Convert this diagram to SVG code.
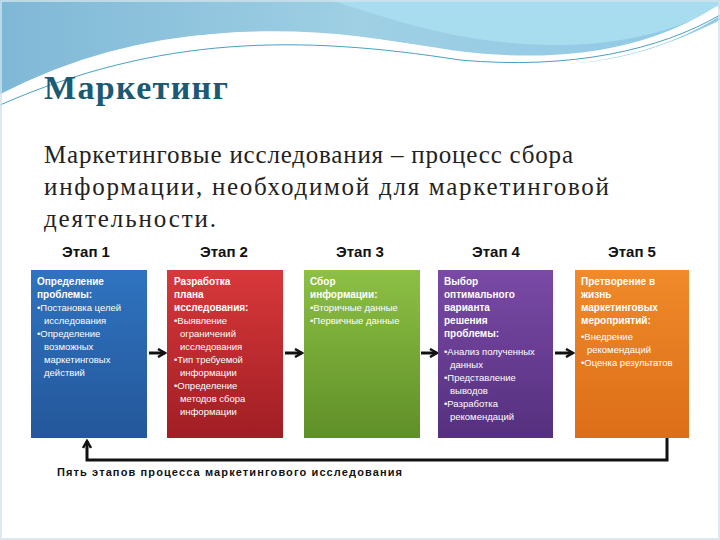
<svg xmlns="http://www.w3.org/2000/svg" width="720" height="540" viewBox="0 0 720 540">
<defs>
<linearGradient id="sky" x1="0" y1="0" x2="1" y2="0"><stop offset="0" stop-color="#7fb8d6"/><stop offset="0.5" stop-color="#9fd0e4"/><stop offset="1" stop-color="#8fc8e6"/></linearGradient>
<linearGradient id="gb" x1="0" y1="0" x2="0" y2="1"><stop offset="0" stop-color="#2f73c0"/><stop offset="1" stop-color="#24579a"/></linearGradient>
<linearGradient id="gr" x1="0" y1="0" x2="0" y2="1"><stop offset="0" stop-color="#d8383a"/><stop offset="1" stop-color="#a01e24"/></linearGradient>
<linearGradient id="gg" x1="0" y1="0" x2="0" y2="1"><stop offset="0" stop-color="#8dc045"/><stop offset="1" stop-color="#5f8f28"/></linearGradient>
<linearGradient id="gp" x1="0" y1="0" x2="0" y2="1"><stop offset="0" stop-color="#7a4aa6"/><stop offset="1" stop-color="#55307e"/></linearGradient>
<linearGradient id="go" x1="0" y1="0" x2="0" y2="1"><stop offset="0" stop-color="#f08a2a"/><stop offset="1" stop-color="#dc6e18"/></linearGradient>
<marker id="ah" markerWidth="10" markerHeight="10" refX="8" refY="5" orient="auto" markerUnits="userSpaceOnUse"><path d="M1,1 L8,5 L1,9" fill="none" stroke="#111" stroke-width="2.5"/></marker>
<style>
.stage{font-family:"Liberation Sans",Arial,sans-serif;font-weight:bold;font-size:15px;fill:#111;text-anchor:middle}
.bt{font-family:"Liberation Sans",Arial,sans-serif;font-weight:bold;font-size:10px;fill:#fff}
.bl{font-family:"Liberation Sans",Arial,sans-serif;font-size:9.5px;fill:#fff}
.body{font-family:"Liberation Serif","Times New Roman",serif;font-size:25px;fill:#222}
.conn{fill:none;stroke:#111;stroke-width:3}
</style>
</defs>
<rect width="720" height="540" fill="#fff"/>
<path d="M0,0 H720 V20 C640,60 560,80 440,50 C300,20 150,20 0,95 Z" fill="url(#sky)"/>
<path d="M330,0 C420,30 480,45 560,45 C640,45 700,20 720,5 V0 Z" fill="#a8dcef"/>
<path d="M0,100 C150,20 300,30 450,55 C560,70 650,55 720,10" fill="none" stroke="#fff" stroke-width="10"/>
<path d="M0,105 C160,35 300,35 460,60 C570,70 660,50 720,15" fill="none" stroke="#4aa0c0" stroke-width="1"/>
<rect x="1" y="1" width="718" height="538" fill="none" stroke="#cfe3ec" stroke-width="1.5"/>
<text x="44" y="99" font-family="Liberation Serif,serif" font-weight="bold" font-size="34" fill="#1b5a74" textLength="184">Маркетинг</text>
<text class="body" x="44" y="163" textLength="529">Маркетинговые исследования – процесс сбора</text>
<text class="body" x="44" y="195" textLength="565">информации, необходимой для маркетинговой</text>
<text class="body" x="44" y="227" textLength="172">деятельности.</text>
<g id="connectors">
<line class="conn" x1="149" y1="353" x2="165" y2="353" marker-end="url(#ah)"/>
<line class="conn" x1="285" y1="353" x2="302" y2="353" marker-end="url(#ah)"/>
<line class="conn" x1="421" y1="353" x2="437" y2="353" marker-end="url(#ah)"/>
<line class="conn" x1="555" y1="353" x2="573" y2="353" marker-end="url(#ah)"/>
<path class="conn" d="M667,438 V460 H87 V441" marker-end="url(#ah)"/>
<text x="57" y="476" font-family="Liberation Sans,Arial,sans-serif" font-weight="bold" font-size="11" fill="#111" textLength="345">Пять этапов процесса маркетингового исследования</text>
</g>
<g id="stage1">
<text class="stage" x="86" y="257">Этап 1</text>
<rect x="31" y="270" width="116" height="168" fill="url(#gb)"/>
<text class="bt" x="37" y="285">Определение</text>
<text class="bt" x="37" y="298">проблемы:</text>
<text class="bl" x="37" y="311">•Постановка целей</text>
<text class="bl" x="44" y="324">исследования</text>
<text class="bl" x="37" y="337">•Определение</text>
<text class="bl" x="44" y="350">возможных</text>
<text class="bl" x="44" y="363">маркетинговых</text>
<text class="bl" x="44" y="376">действий</text>
</g>
<g id="stage2">
<text class="stage" x="224" y="257">Этап 2</text>
<rect x="167" y="270" width="116" height="168" fill="url(#gr)"/>
<text class="bt" x="174" y="285">Разработка</text>
<text class="bt" x="174" y="298">плана</text>
<text class="bt" x="174" y="311">исследования:</text>
<text class="bl" x="174" y="324">•Выявление</text>
<text class="bl" x="180" y="337">ограничений</text>
<text class="bl" x="180" y="350">исследования</text>
<text class="bl" x="174" y="363">•Тип требуемой</text>
<text class="bl" x="180" y="376">информации</text>
<text class="bl" x="174" y="389">•Определение</text>
<text class="bl" x="180" y="402">методов сбора</text>
<text class="bl" x="180" y="415">информации</text>
</g>
<g id="stage3">
<text class="stage" x="360" y="257">Этап 3</text>
<rect x="304" y="270" width="116" height="168" fill="url(#gg)"/>
<text class="bt" x="310" y="285">Сбор</text>
<text class="bt" x="310" y="298">информации:</text>
<text class="bl" x="310" y="311" font-size="8.5">•Вторичные данные</text>
<text class="bl" x="310" y="324" font-size="8.5">•Первичные данные</text>
</g>
<g id="stage4">
<text class="stage" x="496" y="257">Этап 4</text>
<rect x="438" y="270" width="115" height="168" fill="url(#gp)"/>
<text class="bt" x="444" y="285">Выбор</text>
<text class="bt" x="444" y="298">оптимального</text>
<text class="bt" x="444" y="311">варианта</text>
<text class="bt" x="444" y="324">решения</text>
<text class="bt" x="444" y="337">проблемы:</text>
<text class="bl" x="444" y="355">•Анализ полученных</text>
<text class="bl" x="450" y="368">данных</text>
<text class="bl" x="444" y="381">•Представление</text>
<text class="bl" x="450" y="394">выводов</text>
<text class="bl" x="444" y="407">•Разработка</text>
<text class="bl" x="450" y="420">рекомендаций</text>
</g>
<g id="stage5">
<text class="stage" x="632" y="257">Этап 5</text>
<rect x="575" y="270" width="114" height="168" fill="url(#go)"/>
<text class="bt" x="581" y="285">Претворение в</text>
<text class="bt" x="581" y="298">жизнь</text>
<text class="bt" x="581" y="311">маркетинговых</text>
<text class="bt" x="581" y="324">мероприятий:</text>
<text class="bl" x="581" y="340">•Внедрение</text>
<text class="bl" x="587" y="353">рекомендаций</text>
<text class="bl" x="581" y="366">•Оценка результатов</text>
</g>
</svg>
